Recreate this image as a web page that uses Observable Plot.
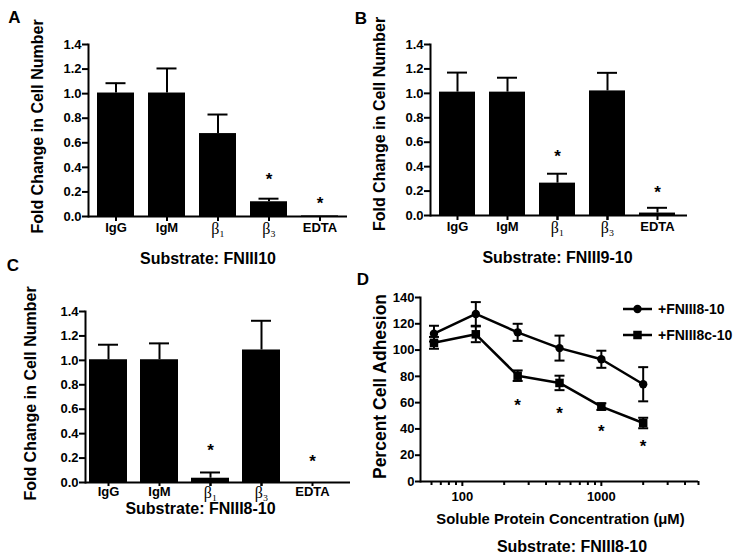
<!DOCTYPE html>
<html>
<head>
<meta charset="utf-8">
<script src="https://cdn.jsdelivr.net/npm/d3@7"></script>
<script src="https://cdn.jsdelivr.net/npm/@observablehq/plot@0.6"></script>
<style>
  html, body { margin: 0; padding: 0; background: #fff; }
  #fig { position: relative; width: 738px; height: 557px; overflow: hidden; background: #fff;
         font-family: "Liberation Sans", Arial, sans-serif; color: #000; }
  #fig > svg { position: absolute; }
  .letter { position: absolute; font-weight: bold; font-size: 17px; line-height: 1; transform: translate(-50%, -50%); }
  #fig g[aria-label="x-axis tick label"], #fig g[aria-label="y-axis tick label"] { font-size: 13px; font-weight: bold; fill: #000; }
  #fig g[aria-label="x-axis tick label"][font-family*="Serif"] { font-size: 16px; font-weight: normal; fill: #000; }
</style>
</head>
<body>
<div id="fig"></div>
<script>
// ---------- Data ----------
const categories = ["IgG", "IgM", "β1", "β3", "EDTA"];
const tickLabels = ["IgG", "IgM", "β₁", "β₃", "EDTA"];
const yTicksBar = [0, 0.2, 0.4, 0.6, 0.8, 1.0, 1.2, 1.4];
const yLabelBar = "Fold Change in Cell Number";

// Panel A (Substrate: FNIII10)
const meanA = [1.005, 1.005, 0.675, 0.12, 0.005];
const errA  = [0.08, 0.2, 0.155, 0.025, 0];
const starA = [null, null, null, 0.334, 0.138];

// Panel B (Substrate: FNIII9-10)
const meanB = [1.01, 1.01, 0.265, 1.02, 0.02];
const errB  = [0.16, 0.118, 0.077, 0.148, 0.043];
const starB = [null, null, 0.518, null, 0.218];

// Panel C (Substrate: FNIII8-10)
const meanC = [1.005, 1.005, 0.035, 1.085, 0];
const errC  = [0.123, 0.134, 0.047, 0.239, 0];
const starC = [null, null, 0.297, null, 0.202];

// Panel D (Percent cell adhesion vs soluble protein)
const concentrations = [62.5, 125, 250, 500, 1000, 2000];
const fn810Mean  = [112.5, 127.5, 113.5, 101.5, 93, 74];
const fn810Err   = [6, 9, 6.5, 9.5, 6.5, 13];
const fn8c10Mean = [105.5, 112, 80.5, 75, 57, 44.5];
const fn8c10Err  = [4.5, 6, 4, 5.5, 2.5, 4];
const starD      = [null, null, 61, 55, 41, 30];
const yTicksD = [0, 20, 40, 60, 80, 100, 120, 140];
const xMajorD = [100, 1000];
const xMinorD = [60, 70, 80, 90, 200, 300, 400, 500, 600, 700, 800, 900, 2000, 3000, 4000, 5000];
const seriesNames = ["+FNIII8-10", "+FNIII8c-10"];

// ---------- Helpers ----------
const fig = document.getElementById("fig");
const baseStyle = {
  fontFamily: "'Liberation Sans', Arial, sans-serif",
  fontWeight: "bold",
  fontSize: "13px",
  color: "black",
  background: "transparent",
  overflow: "visible"
};

function place(svg, left, top) {
  svg.style.left = left + "px";
  svg.style.top = top + "px";
  fig.appendChild(svg);
}

function letter(txt, cx, cy) {
  const d = document.createElement("div");
  d.className = "letter";
  d.textContent = txt;
  d.style.left = cx + "px";
  d.style.top = cy + "px";
  fig.appendChild(d);
}

function barPanel(cfg) {
  const data = categories.map((c, i) => ({cat: c, mean: cfg.means[i], err: cfg.errs[i], star: cfg.stars[i]}));
  const withErr = data.filter(d => d.err > 0);
  const withStar = data.filter(d => d.star != null);
  const betas = categories.filter(c => c.startsWith("β"));
  return Plot.plot({
    width: cfg.width, height: cfg.height,
    marginLeft: cfg.ml, marginRight: cfg.mr, marginTop: cfg.mt, marginBottom: cfg.mb,
    style: baseStyle,
    x: {type: "band", domain: categories, range: cfg.range, paddingInner: cfg.pi, paddingOuter: cfg.po, label: null},
    y: {domain: [0, 1.4], label: null},
    marks: [
      Plot.barY(data, {x: "cat", y: "mean", fill: "black"}),
      Plot.ruleX(withErr, {x: "cat", y1: "mean", y2: d => d.mean + d.err, stroke: "black", strokeWidth: 2}),
      Plot.tickY(withErr, {x: "cat", y: d => d.mean + d.err, stroke: "black", strokeWidth: 2, insetLeft: cfg.inset, insetRight: cfg.inset}),
      Plot.text(withStar, {x: "cat", y: "star", text: () => "*", fontSize: 17, dy: 4, fill: "black"}),
      Plot.frame({anchor: "left", strokeWidth: 2}),
      Plot.ruleY([0], {strokeWidth: 2}),
      Plot.axisY({ticks: yTicksBar, tickFormat: d => d.toFixed(1), tickSize: 6, tickPadding: 1, strokeWidth: 2, fontSize: 13, fill: "black", label: null}),
      Plot.axisX({tickSize: cfg.ts, tickPadding: cfg.tp, strokeWidth: 2, fontSize: 13, fill: "black",
                  tickFormat: d => d.startsWith("β") ? "" : tickLabels[categories.indexOf(d)], label: null}),
      Plot.axisX({ticks: betas, tickSize: cfg.ts, tickPadding: cfg.tp, strokeWidth: 2, fontSize: 16,
                  fontWeight: "normal", fontFamily: "'Liberation Serif', serif", fill: "black",
                  tickFormat: d => tickLabels[categories.indexOf(d)], label: null}),
      Plot.text([yLabelBar], {frameAnchor: "left", textAnchor: "middle", lineAnchor: "middle", rotate: -90,
                              dx: cfg.yldx, dy: cfg.yldy, fontSize: 16, fill: "black"}),
      Plot.text([cfg.title], {frameAnchor: "bottom", textAnchor: "middle", lineAnchor: "middle",
                              dx: cfg.tdx, dy: cfg.tdy, fontSize: 16, fill: "black"})
    ]
  });
}

// ---------- Panels A, B, C ----------
place(barPanel({
  means: meanA, errs: errA, stars: starA, title: "Substrate: FNIII10",
  width: 370, height: 270, ml: 88, mr: 23, mt: 44, mb: 54,
  range: [88, 346], pi: 0.28, po: 0.14, inset: 8.5, ts: 5, tp: 1,
  yldx: -51, yldy: -4, tdx: -10, tdy: 42
}), 0, 0);

place(barPanel({
  means: meanB, errs: errB, stars: starB, title: "Substrate: FNIII9-10",
  width: 368, height: 270, ml: 60, mr: 51, mt: 44, mb: 55,
  range: [60, 314], pi: 0.29, po: 0.145, inset: 8, ts: 5, tp: 1,
  yldx: -51, yldy: -6, tdx: -1.5, tdy: 42
}), 370, 0);

place(barPanel({
  means: meanC, errs: errC, stars: starC, title: "Substrate: FNIII8-10",
  width: 370, height: 270, ml: 85, mr: 20, mt: 41, mb: 58,
  range: [82.5, 337.5], pi: 0.25, po: 0.125, inset: 9, ts: 4, tp: 0,
  yldx: -55, yldy: -3.5, tdx: -17.5, tdy: 26.5
}), 0, 270);

// ---------- Panel D ----------
const s1 = concentrations.map((c, i) => ({conc: c, mean: fn810Mean[i], err: fn810Err[i]}));
const s2 = concentrations.map((c, i) => ({conc: c, mean: fn8c10Mean[i], err: fn8c10Err[i]}));
const starsRows = concentrations.map((c, i) => ({conc: c, star: starD[i]})).filter(d => d.star != null);
const cap = { draw(context) { context.moveTo(-5, 0); context.lineTo(5, 0); } };

const errMarks = (rows) => [
  Plot.ruleX(rows, {x: "conc", y1: d => d.mean - d.err, y2: d => d.mean + d.err, stroke: "black", strokeWidth: 2}),
  Plot.dot(rows, {x: "conc", y: d => d.mean + d.err, symbol: cap, stroke: "black", fill: "none", strokeWidth: 2}),
  Plot.dot(rows, {x: "conc", y: d => d.mean - d.err, symbol: cap, stroke: "black", fill: "none", strokeWidth: 2})
];

const plotD = Plot.plot({
  width: 368, height: 287,
  marginLeft: 50, marginRight: 40, marginTop: 27, marginBottom: 76,
  style: baseStyle,
  x: {type: "log", domain: [50, 5000], label: null},
  y: {domain: [0, 140], label: null},
  marks: [
    ...errMarks(s1),
    ...errMarks(s2),
    Plot.line(s1, {x: "conc", y: "mean", stroke: "black", strokeWidth: 2.5}),
    Plot.line(s2, {x: "conc", y: "mean", stroke: "black", strokeWidth: 2.5}),
    Plot.dot(s1, {x: "conc", y: "mean", r: 4.2, fill: "black"}),
    Plot.dot(s2, {x: "conc", y: "mean", symbol: "square", r: 4.8, fill: "black"}),
    Plot.text(starsRows, {x: "conc", y: "star", text: () => "*", fontSize: 17, dy: 4, fill: "black"}),
    Plot.frame({anchor: "left", strokeWidth: 2}),
    Plot.ruleY([0], {strokeWidth: 2}),
    Plot.axisY({ticks: yTicksD, tickSize: 5, tickPadding: 1, strokeWidth: 2, fontSize: 13, fill: "black", label: null}),
    Plot.axisX({ticks: xMajorD, tickSize: 5, tickPadding: 5, strokeWidth: 2, fontSize: 13, fill: "black", tickFormat: d => String(d), label: null}),
    Plot.axisX({ticks: xMinorD, tickSize: 4, strokeWidth: 2, tickFormat: () => "", label: null}),
    Plot.text(["Percent Cell Adhesion"], {frameAnchor: "left", textAnchor: "middle", lineAnchor: "middle", rotate: -90,
                                          dx: -40, dy: -3, fontSize: 17.5, fill: "black"}),
    Plot.text(["Soluble Protein Concentration (μM)"], {frameAnchor: "bottom", textAnchor: "middle", lineAnchor: "middle",
                                                     dx: 1, dy: 38, fontSize: 14.8, fill: "black"}),
    Plot.text(["Substrate: FNIII8-10"], {frameAnchor: "bottom", textAnchor: "middle", lineAnchor: "middle",
                                         dx: 12.5, dy: 65, fontSize: 16, fill: "black"})
  ]
});
place(plotD, 370, 270);

// Legend for panel D
(function legend() {
  const lg = d3.create("svg").attr("width", 123).attr("height", 56)
    .style("left", "615px").style("top", "295px")
    .attr("font-family", "'Liberation Sans', Arial, sans-serif").attr("font-weight", "bold").attr("font-size", 14);
  const rows = [{name: seriesNames[0], y: 14, shape: "circle"}, {name: seriesNames[1], y: 40, shape: "square"}];
  for (const r of rows) {
    lg.append("line").attr("x1", 8).attr("x2", 37).attr("y1", r.y).attr("y2", r.y).attr("stroke", "black").attr("stroke-width", 2.5);
    if (r.shape === "circle") lg.append("circle").attr("cx", 22.5).attr("cy", r.y).attr("r", 4.2).attr("fill", "black");
    else lg.append("rect").attr("x", 22.5 - 4.25).attr("y", r.y - 4.25).attr("width", 8.5).attr("height", 8.5).attr("fill", "black");
    lg.append("text").attr("x", 43).attr("y", r.y).attr("dy", "0.35em").attr("fill", "black").text(r.name);
  }
  fig.appendChild(lg.node());
})();

// Panel letters
letter("A", 14.5, 17);
letter("B", 361, 18);
letter("C", 13, 265);
letter("D", 363, 279);
</script>
</body>
</html>
